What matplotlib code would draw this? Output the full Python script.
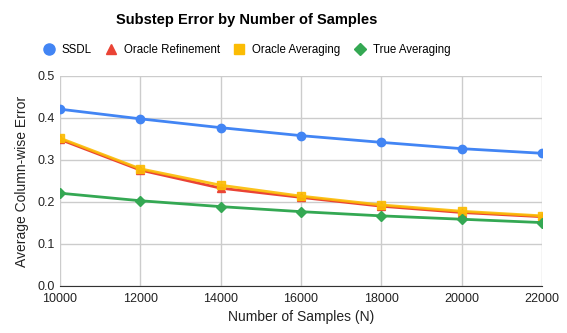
import matplotlib
matplotlib.use("Agg")
import matplotlib.pyplot as plt
from matplotlib.lines import Line2D

samples = [10000, 12000, 14000, 16000, 18000, 20000, 22000]
ssdl = [0.421, 0.398, 0.377, 0.358, 0.342, 0.327, 0.316]
oracle_refinement = [0.349, 0.276, 0.233, 0.211, 0.190, 0.175, 0.165]
oracle_averaging = [0.352, 0.279, 0.240, 0.214, 0.193, 0.178, 0.167]
true_averaging = [0.221, 0.203, 0.189, 0.177, 0.167, 0.159, 0.151]

series = [
    ("SSDL", ssdl, "#4285F4", "o"),
    ("Oracle Refinement", oracle_refinement, "#EA4335", "^"),
    ("Oracle Averaging", oracle_averaging, "#FBBC04", "s"),
    ("True Averaging", true_averaging, "#34A853", "D"),
]

plt.rcParams["font.family"] = ["Liberation Sans", "DejaVu Sans"]

fig = plt.figure(figsize=(5.67, 3.33), dpi=100)
ax = fig.add_axes([60 / 567, 1 - 286 / 333, 482 / 567, 210 / 333])

# red goes under yellow like the original
for name, vals, color, marker in series:
    ms = 6 if marker != "D" else 5
    ax.plot(samples, vals, color=color, lw=2, marker=marker, ms=ms,
            label=name, zorder=3 if name != "Oracle Refinement" else 2,
            alpha=0.9 if name == "Oracle Averaging" else 1)

ax.set_xlim(10000, 22000)
ax.set_ylim(0, 0.5)
ax.set_xticks(samples)
ax.set_yticks([0, 0.1, 0.2, 0.3, 0.4, 0.5])
ax.set_yticklabels(["0.0", "0.1", "0.2", "0.3", "0.4", "0.5"])
ax.grid(True, color="#cccccc", lw=1)
ax.set_axisbelow(True)
for s in ["top", "right", "left"]:
    ax.spines[s].set_visible(False)
ax.spines["bottom"].set_color("#333333")
ax.tick_params(length=0, labelsize=9, colors="#222222")
ax.tick_params(axis="x", pad=5)
ax.set_xlabel("Number of Samples (N)", fontsize=10, color="#222222", labelpad=4)
ax.set_ylabel("Average Column-wise Error", fontsize=10, color="#222222", labelpad=6)

fig.text(247 / 567, 1 - 20 / 333, "Substep Error by Number of Samples",
         ha="center", va="center", fontsize=10.5, fontweight="bold")

handles = [Line2D([], [], ls="none", marker=m, color=c, ms=8 if m == "o" else 6.5)
           for _, _, c, m in series]
fig.legend(handles, [s[0] for s in series], loc="center",
           bbox_to_anchor=(246 / 567, 1 - 50 / 333), ncol=4, frameon=False,
           fontsize=8.3, handletextpad=0.5, columnspacing=1.1, handlelength=1.2)

fig.savefig("out.png", dpi=100)
